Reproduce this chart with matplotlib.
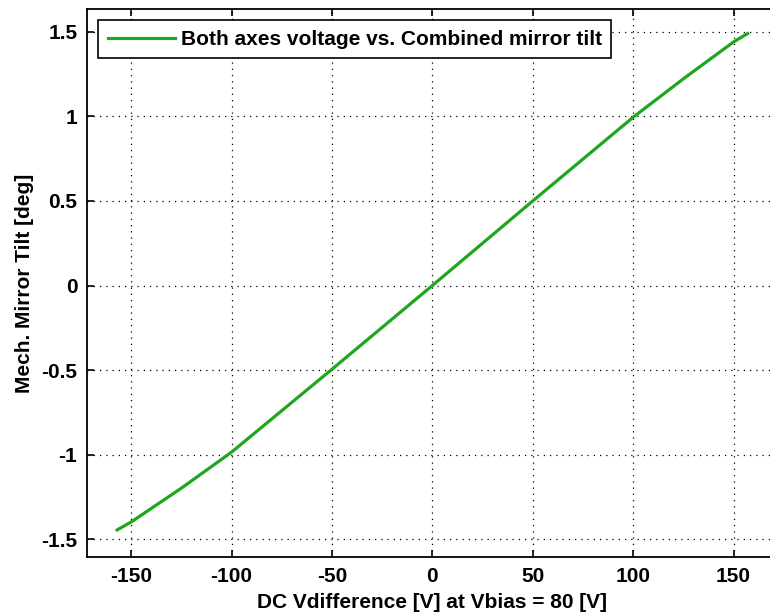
import matplotlib
matplotlib.use("Agg")
import matplotlib.pyplot as plt
from matplotlib.ticker import FuncFormatter

# ===================== DATA =====================
v_diff = [-157, -150, -125, -100, -50, 0, 50, 100, 125, 150, 157]
tilt_deg = [-1.445, -1.398, -1.198, -0.985, -0.495, 0.0, 0.50, 0.995, 1.222, 1.44, 1.49]

x_ticks = [-150, -100, -50, 0, 50, 100, 150]
y_ticks = [-1.5, -1, -0.5, 0, 0.5, 1, 1.5]

legend_label = "Both axes voltage vs. Combined mirror tilt"
x_label = "DC Vdifference [V] at Vbias = 80 [V]"
y_label = "Mech. Mirror Tilt [deg]"
# ================================================

plt.rcParams["font.family"] = ["Liberation Sans", "DejaVu Sans"]
plt.rcParams["font.weight"] = "bold"
plt.rcParams["axes.unicode_minus"] = False

fig = plt.figure(figsize=(7.7, 6.16), dpi=100)
ax = fig.add_axes([0.113, 0.0958, 0.897, 0.8896])

ax.plot(v_diff, tilt_deg, color="#1fa61f", linewidth=2.3, label=legend_label)

ax.set_xlim(-172, 172)
ax.set_ylim(-1.605, 1.635)
ax.set_xticks(x_ticks)
ax.set_yticks(y_ticks)
ax.xaxis.set_major_formatter(FuncFormatter(lambda v, p: f"{v:g}"))
ax.yaxis.set_major_formatter(FuncFormatter(lambda v, p: f"{v:g}"))

ax.grid(True, color="black", linestyle=(0, (1, 4)), linewidth=0.9)
ax.tick_params(direction="in", length=5, width=1.2, top=True, right=True,
               labelsize=15, pad=7)
for lbl in ax.get_xticklabels() + ax.get_yticklabels():
    lbl.set_fontweight("bold")
for sp in ax.spines.values():
    sp.set_linewidth(1.3)

ax.set_xlabel(x_label, fontsize=15, fontweight="bold", labelpad=5)
ax.set_ylabel(y_label, fontsize=15, fontweight="bold", labelpad=5)

leg = ax.legend(loc="upper left", fancybox=False, framealpha=1,
                edgecolor="black", handlelength=3.2, handletextpad=0.3,
                borderaxespad=0.55, borderpad=0.45,
                prop={"weight": "bold", "size": 15})
leg.get_frame().set_linewidth(1.2)

fig.savefig("out.png", dpi=100)
